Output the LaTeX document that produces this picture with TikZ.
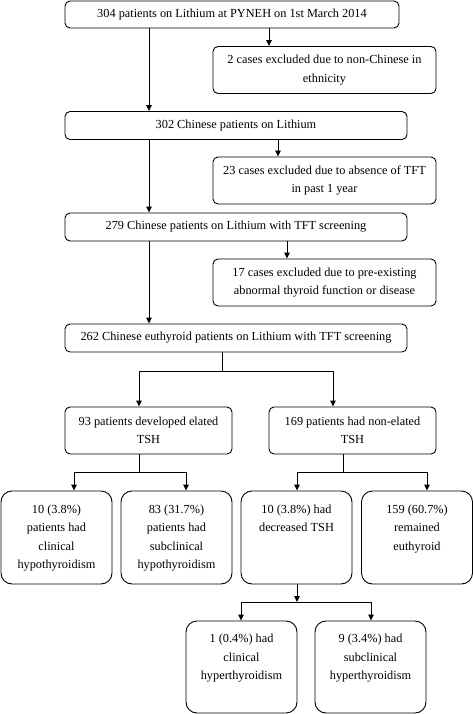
\documentclass[tikz,border=0pt]{standalone}
\usepackage{fontspec}
\setmainfont{Liberation Serif}
\usetikzlibrary{arrows.meta}
\newcommand{\myfs}{\fontsize{12.3}{18.4}\selectfont}
\newcommand{\tb}[1]{\parbox[c][74pt][t]{108pt}{\centering\myfs\strut #1\strut}}
\begin{document}
\begin{tikzpicture}[x=1pt,y=-1pt,
 box/.style={draw, line width=0.9pt, rounded corners=5pt, inner sep=0pt, align=center, font=\myfs},
 wide/.style={box, minimum width=342pt, minimum height=28pt},
 side/.style={box, minimum width=223pt, minimum height=47pt},
 mid/.style={box, minimum width=167pt, minimum height=47pt},
 tall/.style={box, rounded corners=11pt, minimum width=111pt, minimum height=93pt},
 arr/.style={line width=0.9pt, -{Triangle[length=6pt,width=5.5pt]}},
 ln/.style={line width=0.9pt}]
\useasboundingbox (0,0) rectangle (473,714);

\node[box, minimum width=334pt, minimum height=27pt] (b1) at (232,14.5) {304 patients on Lithium at PYNEH on 1st March 2014};
\node[side] (b2) at (324.5,70) {2 cases excluded due to non-Chinese in\\ethnicity};
\node[wide] (b3) at (236,125.5) {302 Chinese patients on Lithium};
\node[side] (b4) at (324.5,180.5) {23 cases excluded due to absence of TFT\\in past 1 year};
\node[wide] (b5) at (236,227) {279 Chinese patients on Lithium with TFT screening};
\node[side] (b6) at (324.5,282.5) {17 cases excluded due to pre-existing\\abnormal thyroid function or disease};
\node[wide] (b7) at (236,338) {262 Chinese euthyroid patients on Lithium with TFT screening};
\node[mid] (b8) at (148.5,430.5) {93 patients developed elated\\TSH};
\node[mid] (b9) at (352.5,430.5) {169 patients had non-elated\\TSH};
\node[tall] (b10) at (56.5,537.5) {\tb{10 (3.8\%)\\patients had\\clinical\\hypothyroidism}};
\node[tall] (b11) at (176.5,537.5) {\tb{83 (31.7\%)\\patients had\\subclinical\\hypothyroidism}};
\node[tall] (b12) at (296.5,537.5) {\tb{10 (3.8\%) had\\decreased TSH}};
\node[tall] (b13) at (417,537.5) {\tb{159 (60.7\%)\\remained\\euthyroid}};
\node[tall, minimum height=92pt] (b14) at (241.5,667) {\tb{1 (0.4\%) had\\clinical\\hyperthyroidism}};
\node[tall, minimum height=92pt] (b15) at (370.5,667) {\tb{9 (3.4\%) had\\subclinical\\hyperthyroidism}};

\coordinate (xa) at (149,0);
\coordinate (xb) at (269,0);
\coordinate (xc) at (278,0);
\coordinate (xd) at (287,0);
\draw[arr] (b1.south -| xa) -- (b3.north -| xa);
\draw[arr] (b3.south -| xa) -- (b5.north -| xa);
\draw[arr] (b5.south -| xa) -- (b7.north -| xa);
\draw[arr] (b1.south -| xb) -- (b2.north -| xb);
\draw[arr] (b3.south -| xc) -- (b4.north -| xc);
\draw[arr] (b5.south -| xd) -- (b6.north -| xd);

\coordinate (j1) at (222,371);
\coordinate (j1l) at (139,371);
\coordinate (j1r) at (333,371);
\draw[ln] (b7.south -| j1) -- (j1);
\draw[ln] (j1l) -- (j1r);
\draw[arr] (j1l) -- (b8.north -| j1l);
\draw[arr] (j1r) -- (b9.north -| j1r);

\coordinate (j2) at (139,472);
\coordinate (j2l) at (74,472);
\coordinate (j2r) at (186,472);
\draw[ln] (b8.south -| j2) -- (j2);
\draw[ln] (j2l) -- (j2r);
\draw[arr] (j2l) -- (b10.north -| j2l);
\draw[arr] (j2r) -- (b11.north -| j2r);

\coordinate (j3) at (343,472);
\coordinate (j3l) at (297,472);
\coordinate (j3r) at (427,472);
\draw[ln] (b9.south -| j3) -- (j3);
\draw[ln] (j3l) -- (j3r);
\draw[arr] (j3l) -- (b12.north -| j3l);
\draw[arr] (j3r) -- (b13.north -| j3r);

\coordinate (j4) at (297,602);
\coordinate (j4l) at (241,602);
\coordinate (j4r) at (371,602);
\draw[arr] (b12.south -| j4) -- (j4);
\draw[ln] (j4l) -- (j4r);
\draw[arr] (j4l) -- (b14.north -| j4l);
\draw[arr] (j4r) -- (b15.north -| j4r);
\end{tikzpicture}
\end{document}
